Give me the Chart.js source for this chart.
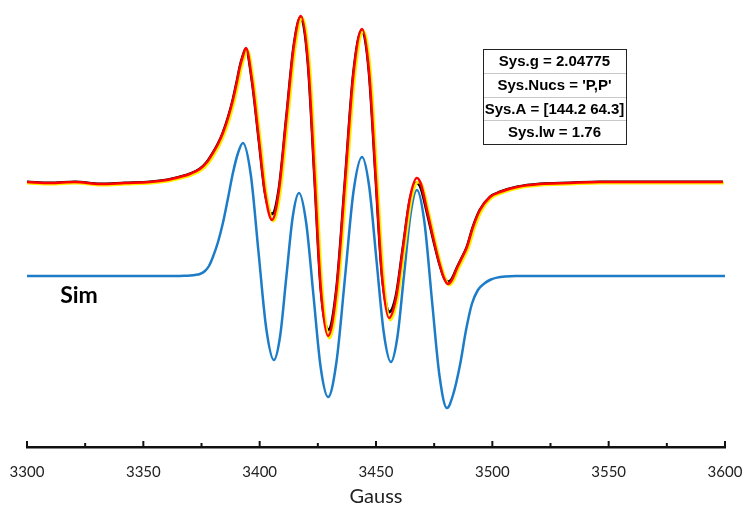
<!DOCTYPE html>
<html>
<head>
<meta charset="utf-8">
<script src="https://cdn.jsdelivr.net/npm/chart.js@4.4.0/dist/chart.umd.min.js"></script>
<style>
  html, body { margin: 0; padding: 0; background: #fff; }
  #wrap { width: 745px; height: 511px; }
</style>
</head>
<body>
<div id="wrap"><canvas id="epr" width="745" height="511"></canvas></div>
<script>
// Experimental field positions (Gauss), red and black traces
const fieldExp = [
  3300, 3309.9, 3320.6, 3331.4, 3342.1, 3352.9, 3360.2, 3365.7, 3370.0, 3374.3,
  3377.4, 3379.9, 3382.1, 3384.2, 3386.4, 3388.5, 3390.2, 3391.5, 3392.8, 3394.1,
  3396.7, 3399.7, 3402.3, 3405.3, 3408.3, 3411.5, 3414.7, 3417.7, 3420.8, 3423.6,
  3426.3, 3429.4, 3433.0, 3436.7, 3440.3, 3444.0, 3447.0, 3449.8, 3452.6, 3455.6,
  3458.6, 3461.6, 3464.6, 3467.6, 3469.3, 3471.9, 3474.5, 3477.1, 3479.2, 3480.9,
  3482.6, 3484.8, 3486.9, 3489.1, 3491.7, 3494.7, 3499.0, 3503.3, 3510.6, 3520.5,
  3533.3, 3546.2, 3567.7, 3589.2, 3599.1
];

// yellow trace sits a little to the right
const fieldExpYellow = [
  3300, 3310.5, 3321.2, 3332.0, 3342.7, 3353.5, 3360.8, 3366.3, 3370.6, 3374.9,
  3378.0, 3380.5, 3382.7, 3384.8, 3387.0, 3389.1, 3390.8, 3392.1, 3393.4, 3394.7,
  3397.3, 3400.3, 3402.9, 3405.9, 3408.9, 3412.1, 3415.3, 3418.3, 3421.4, 3424.2,
  3426.9, 3430.0, 3433.6, 3437.3, 3440.9, 3444.6, 3447.6, 3450.4, 3453.2, 3456.2,
  3459.2, 3462.2, 3465.2, 3468.2, 3469.9, 3472.5, 3475.1, 3477.7, 3479.8, 3481.5,
  3483.2, 3485.4, 3487.5, 3489.7, 3492.3, 3495.3, 3499.6, 3503.9, 3511.2, 3521.1,
  3533.9, 3546.8, 3568.3, 3589.8, 3599.5
];

const redSignal = [
  94, 93, 94, 92, 93, 94, 96, 99, 102, 107,
  114, 123, 132, 143, 158, 176, 194, 209, 220, 228,
  196, 136, 83, 56, 86, 158, 230, 260, 213, 100,
  -13, -60, -15, 94, 202, 247, 205, 103, 0, -42,
  -22, 28, 78, 98, 92, 66, 39, 14, -2, -8,
  -4, 8, 18, 29, 49, 66, 79, 84, 89, 92,
  93, 94, 94, 94, 94
];

const blackSignal = [
  94, 93, 94, 92, 93, 94, 96, 99, 102, 107,
  114, 123, 132, 143, 158, 176, 194, 209, 220, 227,
  196, 136, 84, 62, 87, 158, 230, 259, 213, 100,
  -12, -54, -14, 94, 202, 246, 205, 103, 2, -36,
  -20, 28, 76, 93, 88, 64, 38, 14, -1, -6,
  -3, 8, 18, 29, 49, 66, 79, 84, 89, 92,
  93, 94, 94, 94, 94
];

const yellowSignal = [
  93, 92, 93, 91, 92, 93, 95, 98, 101, 106,
  113, 122, 131, 142, 157, 175, 193, 208, 219, 226,
  195, 135, 82, 55, 85, 157, 229, 258, 212, 99,
  -14, -62, -16, 93, 201, 245, 204, 102, -1, -44,
  -23, 27, 77, 94, 90, 65, 38, 13, -3, -9,
  -5, 7, 17, 28, 48, 65, 78, 83, 88, 91,
  92, 93, 93, 93, 93
];

// Simulated spectrum
const fieldSim = [
  3300, 3352.9, 3365.7, 3367.9, 3370.0, 3372.2, 3374.3, 3376.5, 3378.2, 3379.9,
  3382.1, 3384.2, 3386.4, 3388.5, 3390.7, 3392.8, 3396.2, 3399.5, 3402.8, 3406.1,
  3408.8, 3411.5, 3414.2, 3416.9, 3420.0, 3423.1, 3426.2, 3429.4, 3433.0, 3436.7,
  3440.3, 3444.0, 3447.1, 3450.2, 3453.3, 3456.4, 3459.2, 3462.0, 3464.8, 3467.6,
  3470.8, 3474.0, 3477.3, 3480.5, 3483.1, 3486.1, 3488.7, 3491.2, 3493.8, 3496.8,
  3499.4, 3502.0, 3505.5, 3510.0, 3600
];

const simSignal = [
  0, 0, 0, 0.2, 0.5, 1, 2, 5, 10, 19,
  34, 53, 78, 103, 123, 133, 101, 24, -52, -84,
  -60, 0, 59, 83, 53, -19, -91, -121, -86, -1,
  84, 119, 89, 16, -56, -86, -61, 0, 61, 86,
  54, -23, -100, -132, -119, -89, -54, -28, -14, -7,
  -3.5, -1.6, -0.5, 0, 0
];

const simParams = [
  "Sys.g = 2.04775",
  "Sys.Nucs = 'P,P'",
  "Sys.A = [144.2 64.3]",
  "Sys.lw = 1.76"
];

function pairs(xs, ys) {
  return xs.map((x, i) => ({ x: x, y: ys[i] }));
}

// Inward tick marks on the field axis
const tickMarks = {
  id: "tickMarks",
  afterDraw(chart) {
    const ctx = chart.ctx;
    const scale = chart.scales.x;
    const y0 = scale.top;
    ctx.save();
    ctx.strokeStyle = "#111";
    ctx.lineWidth = 2;
    scale.ticks.forEach((t) => {
      const px = scale.getPixelForValue(t.value);
      const len = t.value % 50 === 0 ? 6 : 4;
      ctx.beginPath();
      ctx.moveTo(px, y0);
      ctx.lineTo(px, y0 - len);
      ctx.stroke();
    });
    ctx.restore();
  },
};

// Parameter box and "Sim" label
const labels = {
  id: "labels",
  afterDraw(chart) {
    const ctx = chart.ctx;
    ctx.save();
    const bx = 483, by = 49, bw = 143, rh = 23.75;
    ctx.fillStyle = "#fff";
    ctx.fillRect(bx, by, bw, rh * 4);
    ctx.strokeStyle = "#c8c8c8";
    ctx.lineWidth = 1;
    for (let i = 1; i < 4; i++) {
      ctx.beginPath();
      ctx.moveTo(bx, Math.round(by + rh * i) + 0.5);
      ctx.lineTo(bx + bw, Math.round(by + rh * i) + 0.5);
      ctx.stroke();
    }
    ctx.strokeStyle = "#222";
    ctx.strokeRect(bx + 0.5, by + 0.5, bw, rh * 4);
    ctx.fillStyle = "#000";
    ctx.font = "bold 15px 'Liberation Sans', Arial, sans-serif";
    ctx.textAlign = "center";
    ctx.textBaseline = "middle";
    simParams.forEach((s, i) => {
      ctx.fillText(s, bx + bw / 2, by + rh * i + rh / 2 + 1);
    });

    ctx.font = "bold 23px Lato, sans-serif";
    ctx.fillText("Sim", 79, 296);
    ctx.restore();
  },
};

new Chart(document.getElementById("epr"), {
  type: "line",
  data: {
    datasets: [
      {
        label: "exp red",
        data: pairs(fieldExp, redSignal),
        borderColor: "#ff0000",
        borderWidth: 2.5,
        order: 1,
      },
      {
        label: "exp yellow",
        data: pairs(fieldExpYellow, yellowSignal),
        borderColor: "#ffee00",
        borderWidth: 3,
        order: 2,
      },
      {
        label: "exp black",
        data: pairs(fieldExp, blackSignal),
        borderColor: "#000000",
        borderWidth: 3,
        order: 3,
      },
      {
        label: "Sim",
        data: pairs(fieldSim, simSignal),
        borderColor: "#1c7cc7",
        borderWidth: 2.5,
        order: 4,
      },
    ],
  },
  options: {
    responsive: false,
    animation: false,
    devicePixelRatio: 1,
    layout: { padding: { left: 27, right: 20, top: 0, bottom: 0 } },
    elements: {
      point: { radius: 0, hoverRadius: 0 },
      line: { cubicInterpolationMode: "monotone", fill: false },
    },
    plugins: {
      legend: { display: false },
      tooltip: { enabled: false },
    },
    scales: {
      x: {
        type: "linear",
        min: 3300,
        max: 3600,
        afterFit: (scale) => {
          scale.height = 64;
          scale.paddingLeft = 0;
          scale.paddingRight = 0;
        },
        grid: { display: false, drawTicks: false },
        border: { display: true, color: "#111", width: 2.5 },
        ticks: {
          stepSize: 25,
          autoSkip: false,
          maxRotation: 0,
          padding: 16,
          color: "#222",
          font: { family: "Lato, sans-serif", size: 15 },
          callback: (v) => (v % 50 === 0 ? v : ""),
        },
        title: {
          display: true,
          text: "Gauss",
          color: "#222",
          font: { family: "Lato, sans-serif", size: 20 },
          padding: { top: 0, bottom: 2 },
        },
      },
      y: {
        display: false,
        min: -171,
        max: 276,
      },
    },
  },
  plugins: [tickMarks, labels],
});
</script>
</body>
</html>
